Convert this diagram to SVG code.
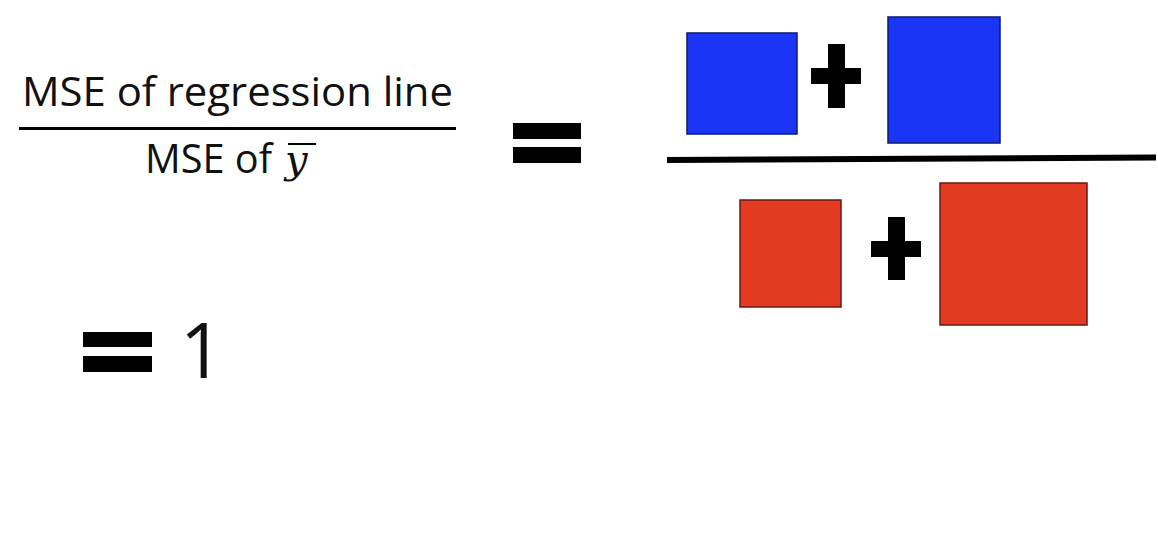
<svg xmlns="http://www.w3.org/2000/svg" width="1158" height="548" viewBox="0 0 1158 548">
<style>
.t{font-family:"Open Sans","Liberation Sans",sans-serif;fill:#111}
.blk{fill:#000}
.blue{fill:#1a35f5;stroke:#0d1a70;stroke-width:1.5}
.red{fill:#e33b22;stroke:#6a1a10;stroke-width:1.5}
</style>
<rect width="1158" height="548" fill="#fff"/>
<g id="lhs">
<text class="t" x="22" y="106" font-size="41" textLength="431" lengthAdjust="spacingAndGlyphs">MSE of regression line</text>
<rect class="blk" x="19" y="127" width="437" height="3"/>
<text class="t" x="145" y="173" font-size="41" textLength="127" lengthAdjust="spacingAndGlyphs">MSE of</text>
<text x="285" y="173" font-size="40" font-style="italic" font-family="'DejaVu Serif','Liberation Serif',serif" fill="#111">y</text>
<rect class="blk" x="288" y="143" width="28" height="2"/>
</g>
<g id="eq1">
<rect class="blk" x="513" y="123" width="68" height="16"/>
<rect class="blk" x="513" y="147" width="68" height="16"/>
</g>
<g id="numerator">
<rect class="blue" x="687" y="33" width="110" height="101"/>
<rect class="blk" x="828" y="44" width="17" height="64"/>
<rect class="blk" x="811" y="68" width="50" height="16"/>
<rect class="blue" x="888" y="17" width="112" height="126"/>
</g>
<g id="fracline">
<polygon class="blk" points="667,157 1156,154.5 1156,160.5 667,163"/>
</g>
<g id="denominator">
<rect class="red" x="740" y="200" width="101" height="107"/>
<rect class="blk" x="888" y="217" width="17" height="63"/>
<rect class="blk" x="871" y="241" width="50" height="16"/>
<rect class="red" x="940" y="183" width="147" height="142"/>
</g>
<g id="eq2">
<rect class="blk" x="83" y="332" width="69" height="15"/>
<rect class="blk" x="83" y="356" width="69" height="16"/>
<text class="t" x="180" y="378" font-size="76">1</text>
</g>
</svg>
